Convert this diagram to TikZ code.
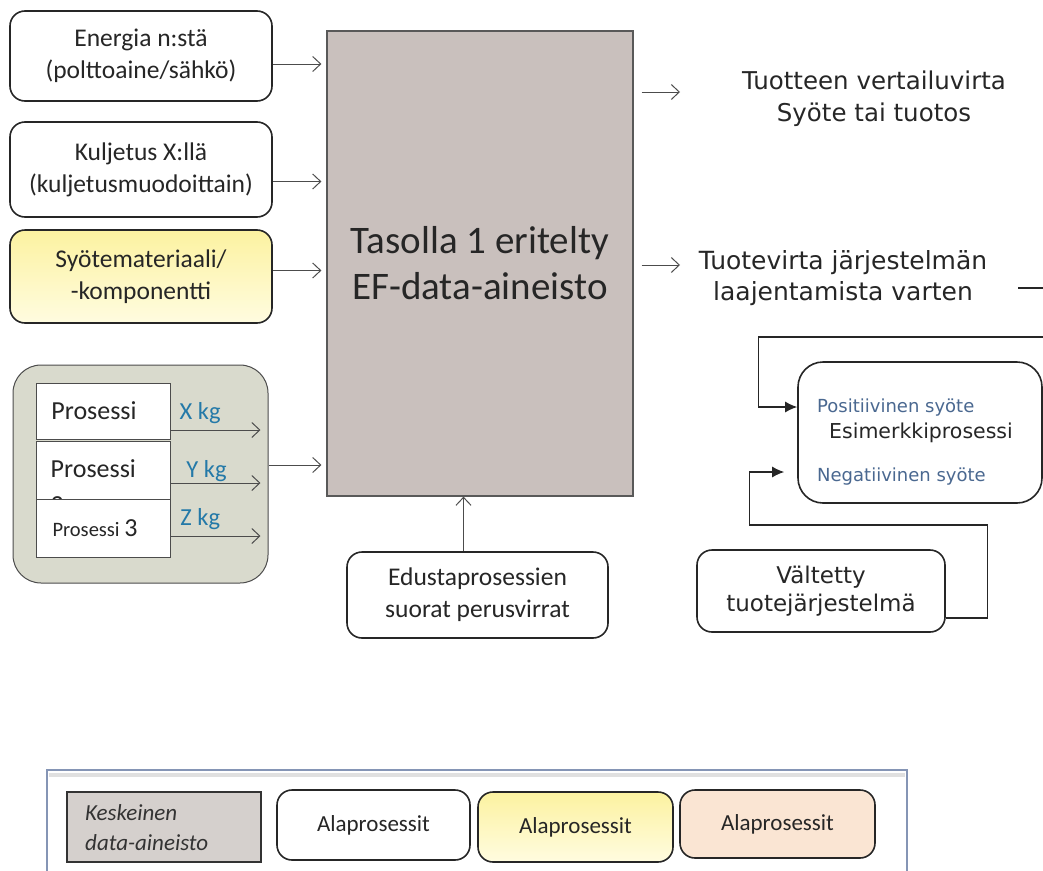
\documentclass[tikz,border=0pt]{standalone}
\usepackage{fontspec}
\setmainfont{Carlito}
\newfontfamily\verd{DejaVu Sans}
\usetikzlibrary{arrows.meta,positioning}

\definecolor{efgrey}{HTML}{C9C0BD}
\definecolor{groupgrey}{HTML}{D9DACD}
\definecolor{keygrey}{HTML}{D5D0CD}
\definecolor{peach}{HTML}{FAE5D3}
\definecolor{kgblue}{HTML}{2479A8}
\definecolor{inblue}{HTML}{4A6890}
\definecolor{framebl}{HTML}{8595B5}
\definecolor{ylwtop}{HTML}{FCF2A0}
\definecolor{ylwbot}{HTML}{FFFCE0}

\begin{document}
\begin{tikzpicture}[x=1pt,y=-1pt,
		>={Straight Barb[length=8pt,width=15pt]},
		line/.style={draw=black!70,line width=1pt},
		inbox/.style={draw=black!85,line width=1.6pt,rounded corners=15pt,fill=white,
			align=center,inner sep=0pt,text=black!85},
		procbox/.style={draw=black!70,line width=1pt,fill=white,inner sep=0pt,
			minimum width=134pt,text=black!85},
		fillarrow/.style={draw=black!85,line width=1.3pt,-{Latex[length=12pt,width=11pt]}}]
		\useasboundingbox (0,0) rectangle (1043,870);
		
		% input boxes
		\node[inbox,minimum width=262pt,minimum height=90pt,font=\fontsize{25.5}{32}\selectfont] (energy) at (141,56) {Energia n:stä\\(polttoaine/sähkö)};
		\node[inbox,minimum width=262pt,minimum height=95pt,font=\fontsize{25.5}{32}\selectfont] (transport) at (141,169.5) {Kuljetus X:llä\\(kuljetusmuodoittain)};
		\node[inbox,minimum width=262pt,minimum height=93pt,font=\fontsize{25.5}{32}\selectfont,
			top color=ylwtop,bottom color=ylwbot] (material) at (141,276.5) {Syötemateriaali/\\-komponentti};
		
		% process group
		\node[draw=black!70,line width=1pt,fill=groupgrey,rounded corners=28pt,
			minimum width=255pt,minimum height=218pt] (group) at (140.5,474) {};
		\node[procbox,minimum height=56pt,font=\fontsize{26}{30}\selectfont] (proc1) at (103,411) {\hspace*{-18pt}Prosessi};
		\node[procbox,minimum height=59pt] (proc2) at (103,470.5) {};
		\node[anchor=north west,inner sep=0pt,align=left,font=\fontsize{26}{36}\selectfont,text=black!85] (proc2text) at ([xshift=15pt,yshift=-19pt]proc2.north west) {Prosessi\\2};
		\node[procbox,minimum height=58pt] (proc3) at (103,528) {\hspace*{-16pt}{\fontsize{20.5}{24}\selectfont Prosessi }{\fontsize{26}{30}\selectfont 3}};
		
		\draw[line,->] ([yshift=-19pt]proc1.east) -- ([yshift=-19pt,xshift=-8pt]proc1.east -| group.east)
			node[pos=0.33,above=2pt,text=kgblue,font=\fontsize{24.5}{28}\selectfont] {X kg};
		\draw[line,->] ([yshift=-12.5pt]proc2.east) -- ([yshift=-12.5pt,xshift=-8pt]proc2.east -| group.east)
			node[pos=0.4,above=-3pt,text=kgblue,font=\fontsize{24.5}{28}\selectfont] {Y kg};
		\draw[line,->] ([yshift=-8pt]proc3.east) -- ([yshift=-8pt,xshift=-8pt]proc3.east -| group.east)
			node[pos=0.33,above=2pt,text=kgblue,font=\fontsize{24.5}{28}\selectfont] {Z kg};
		
		% central data set
		\node[draw=black!65,line width=1.2pt,fill=efgrey,minimum width=306pt,minimum height=465pt,
			align=center,font=\fontsize{39}{46}\selectfont,text=black!85] (ef) at (480,263.5) {Tasolla 1 eritelty\\EF-data-aineisto};
		
		\draw[line,->,shorten >=5pt] ([yshift=-8pt]energy.east) -- ([yshift=-8pt]energy.east -| ef.west);
		\draw[line,->,shorten >=5pt] ([yshift=-12pt]transport.east) -- ([yshift=-12pt]transport.east -| ef.west);
		\draw[line,->,shorten >=5pt] ([yshift=6pt]material.east) -- ([yshift=6pt]material.east -| ef.west);
		\draw[line,->,shorten >=5pt] ([yshift=9pt]group.east) -- ([yshift=9pt]group.east -| ef.west);
		
		% direct flows
		\node[inbox,minimum width=261pt,minimum height=86pt,font=\fontsize{25.5}{32}\selectfont] (direct) at (477.5,595) {Edustaprosessien\\suorat perusvirrat};
		\draw[line,->] ([xshift=-14pt]direct.north) -- ([xshift=-14pt]direct.north |- ef.south);
		
		% outputs
		\coordinate (refend) at (680,92);
		\coordinate (extend) at (680,265);
		\node[align=center,font=\verd\fontsize{24.5}{32}\selectfont,text=black!85] (ref) at (874,99) {Tuotteen vertailuvirta\\Syöte tai tuotos};
		\node[align=center,font=\verd\fontsize{25}{31}\selectfont,text=black!85] (ext) at (843,278) {Tuotevirta järjestelmän\\laajentamista varten};
		\draw[line,->,shorten <=8pt] (ef.east |- refend) -- (refend);
		\draw[line,->,shorten <=8pt] (ef.east |- extend) -- (extend);
		
		% system expansion
		\node[inbox,rounded corners=25pt,minimum width=244pt,minimum height=141pt,
			font=\verd\fontsize{20.5}{24}\selectfont] (example) at (920,432.5) {\hspace*{2pt}Esimerkkiprosessi};
		\node[anchor=west,inner sep=0pt,text=inblue,font=\verd\fontsize{18}{21}\selectfont] (pos) at (817,408) {Positiivinen syöte};
		\node[anchor=west,inner sep=0pt,text=inblue,font=\verd\fontsize{18}{21}\selectfont] (neg) at (817,477) {Negatiivinen syöte};
		\node[inbox,minimum width=248pt,minimum height=82pt,font=\verd\fontsize{23}{28}\selectfont] (avoided) at (821,591) {Vältetty\\tuotejärjestelmä};
		
		\coordinate (rimA) at (1043,288);
		\coordinate (rimB) at (1043,337);
		\draw[line,line width=1.3pt,black!85] ([xshift=-25pt]rimA) -- (rimA);
		\draw[fillarrow] (rimB) -| ([xshift=-39pt,yshift=25.5pt]example.west) -- ([yshift=25.5pt]example.west);
		\draw[fillarrow] ([yshift=-27pt]avoided.east) -- ++(42,0) -- ++(0,-93) -| ++(-238,-53)
			-- ([xshift=-13pt,yshift=-39.5pt]example.west);
		
		% legend
		\draw[black!12,line width=4pt] (49,775) -- (905,775);
		\draw[framebl,line width=1.4pt] (47,880) -- (47,770) -- (907,770) -- (907,880);
		\node[draw=black!80,line width=1.3pt,fill=keygrey,minimum width=194pt,minimum height=70pt,
			inner sep=0pt] (key) at (164,827) {};
		\node[anchor=west,align=left,inner sep=0pt,font=\itshape\fontsize{23}{30}\selectfont,text=black!80] (keytext) at (85,828) {Keskeinen\\data-aineisto};
		\node[inbox,minimum width=193pt,minimum height=70pt,font=\fontsize{23}{26}\selectfont] (sub1) at (373.5,825) {Alaprosessit};
		\node[inbox,minimum width=195pt,minimum height=70pt,font=\fontsize{23}{26}\selectfont,
			top color=ylwtop,bottom color=ylwbot] (sub2) at (575.5,827) {Alaprosessit};
		\node[inbox,minimum width=195pt,minimum height=68pt,font=\fontsize{23}{26}\selectfont,
			fill=peach] (sub3) at (777.5,824) {Alaprosessit};
		
		\end{tikzpicture}
\end{document}
